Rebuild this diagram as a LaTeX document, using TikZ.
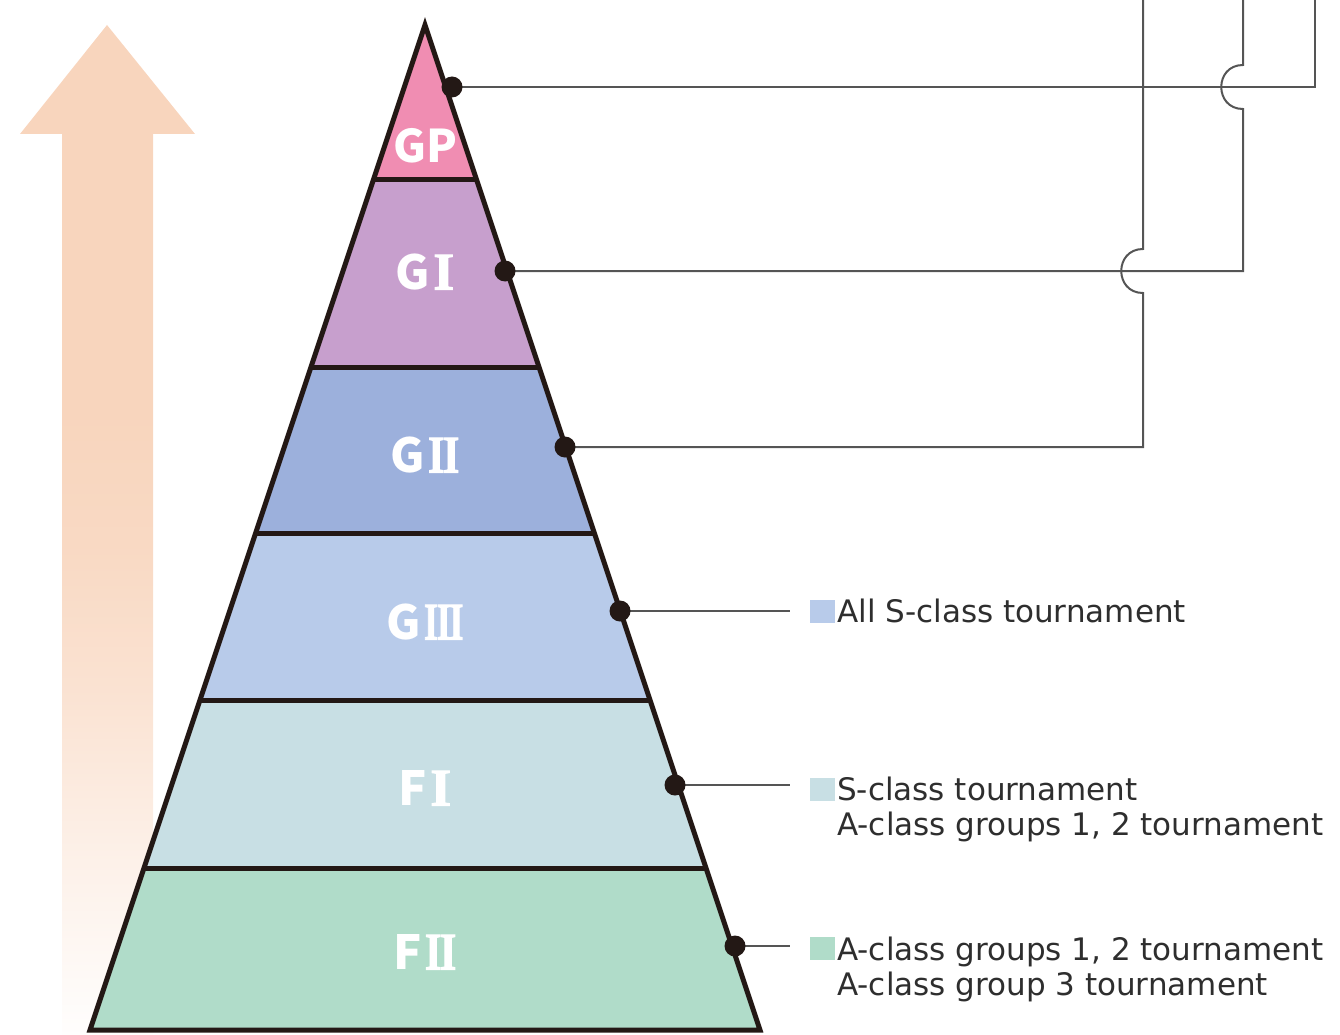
\documentclass[tikz,border=0pt]{standalone}
\usepackage{fontspec}
\usepackage{graphicx}
\newfontfamily\labfont{DejaVu Sans}
\newfontfamily\jpfont{Noto Sans CJK JP}
\newfontfamily\romfont{Liberation Serif}[BoldFont={* Bold},BoldFeatures={FakeBold=2}]
\definecolor{peach}{HTML}{F8D5BD}
\definecolor{cGP}{HTML}{F08DB2}
\definecolor{cGI}{HTML}{C79FCD}
\definecolor{cGII}{HTML}{9CB0DC}
\definecolor{cGIII}{HTML}{B8CBEA}
\definecolor{cFI}{HTML}{C8DFE4}
\definecolor{cFII}{HTML}{B0DCC9}
\definecolor{outl}{HTML}{231815}
\definecolor{wire}{HTML}{555555}
\definecolor{txt}{HTML}{2E2E2E}
\pgfdeclareverticalshading{arrowfade}{100bp}{color(0bp)=(peach!3); color(25bp)=(peach!3); color(34bp)=(peach!35); color(42bp)=(peach!68); color(49bp)=(peach!90); color(56bp)=(peach); color(100bp)=(peach)}
\newcommand{\romI}{{\romfont\bfseries\fontsize{53}{53}\selectfont I}}
\newcommand{\romII}{{\romfont\bfseries\fontsize{53}{53}\selectfont\scalebox{0.8}[1]{I\kern-2pt I}}}
\newcommand{\romIII}{{\romfont\bfseries\fontsize{53}{53}\selectfont\scalebox{0.68}[1]{I\kern-2pt I\kern-2pt I}}}
\begin{document}
\begin{tikzpicture}[x=1pt,y=-1pt,
  band/.style={draw=outl,line width=5pt,line join=miter},
  tier/.style={text=white,font=\jpfont\bfseries\fontsize{47}{47}\selectfont,inner sep=0pt},
  dotmark/.style={circle,fill=outl,minimum size=21pt,inner sep=0pt},
  wireline/.style={draw=wire,line width=2pt},
  legline/.style={draw=wire,line width=1.6pt},
  sq/.style={minimum width=25pt,minimum height=23pt,inner sep=0pt},
  legtext/.style={anchor=north west,align=left,inner sep=0pt,text=txt,font=\labfont\fontsize{31}{35}\selectfont}]
\useasboundingbox (0,0) rectangle (1340,1035);
% rising arrow
\shade[shading=arrowfade,draw=none]
  (107,25) -- (195,134) -- (153,134) -- (153,1035) -- (62,1035) -- (62,134) -- (20,134) -- cycle;
% pyramid bands
\fill[cGP]   (425,25) -- (476.7,180) -- (373.3,180) -- cycle;
\fill[cGI]   (373.3,180) -- (476.7,180) -- (539,367) -- (311,367) -- cycle;
\fill[cGII]  (311,367) -- (539,367) -- (594.3,533) -- (255.7,533) -- cycle;
\fill[cGIII] (255.7,533) -- (594.3,533) -- (650,700) -- (200,700) -- cycle;
\fill[cFI]   (200,700) -- (650,700) -- (706,868) -- (144,868) -- cycle;
\fill[cFII]  (144,868) -- (706,868) -- (760,1030) -- (90,1030) -- cycle;
\draw[band] (373.3,180) -- (476.7,180);
\draw[band] (311,367) -- (539,367);
\draw[band] (255.7,533) -- (594.3,533);
\draw[band] (200,700) -- (650,700);
\draw[band] (144,868) -- (706,868);
\draw[band] (425,25) -- (760,1030) -- (90,1030) -- cycle;
% tier labels
\node[tier,font=\jpfont\bfseries\fontsize{45}{45}\selectfont] (tGP) at (425,146) {GP};
\node[tier] (tGI) at (425,272) {G\kern3pt\romI};
\node[tier] (tGII) at (425,455) {G\kern3pt\romII};
\node[tier] (tGIII) at (425,622) {G\kern3pt\romIII};
\node[tier] (tFI) at (425,788) {F\kern3pt\romI};
\node[tier] (tFII) at (425,952) {F\kern3pt\romII};
% connector end points
\coordinate (eGP) at (1315,0);
\coordinate (eGI) at (1243,0);
\coordinate (eGII) at (1143,0);
\coordinate (lGIII) at (790,611);
\coordinate (lFI) at (790,785);
\coordinate (lFII) at (790,946);
% wires to the top
\draw[wireline] (452,87) -| (eGP);
\draw[wireline] (505,271) -| (1243,109)
  .. controls (1214,109) and (1214,65) .. (1243,65) -- (eGI);
\draw[wireline] (565,447) -| (1143,293)
  .. controls (1114,293) and (1114,249) .. (1143,249) -- (eGII);
% legend wires
\draw[legline] (620,611) -- (lGIII);
\draw[legline] (675,785) -- (lFI);
\draw[legline] (735,946) -- (lFII);
% dots
\node[dotmark] (dGP) at (452,87) {};
\node[dotmark] (dGI) at (505,271) {};
\node[dotmark] (dGII) at (565,447) {};
\node[dotmark] (dGIII) at (620,611) {};
\node[dotmark] (dFI) at (675,785) {};
\node[dotmark] (dFII) at (735,946) {};
% legend
\node[sq,fill=cGIII] (sGIII) at (822,611) {};
\node[sq,fill=cFI] (sFI) at (822,789) {};
\node[sq,fill=cFII] (sFII) at (822,948) {};
\node[legtext] (xGIII) at (837,598.5) {All S-class tournament};
\node[legtext] (xFI) at (837,776.5) {S-class tournament\\A-class groups 1, 2 tournament};
\node[legtext] (xFII) at (837,936.5) {A-class groups 1, 2 tournament\\A-class group 3 tournament};
\end{tikzpicture}
\end{document}
